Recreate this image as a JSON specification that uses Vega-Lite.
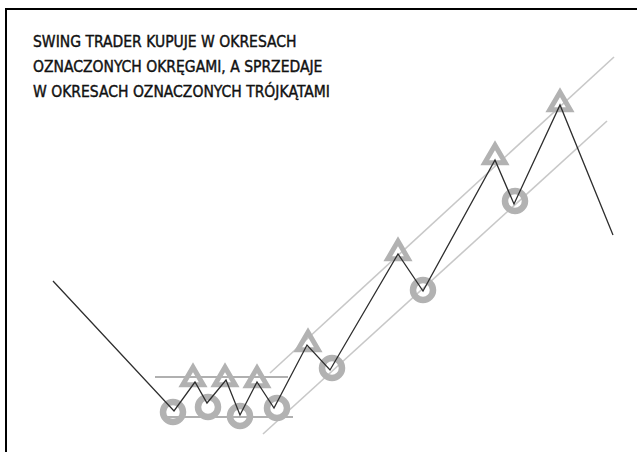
{
  "$schema": "https://vega.github.io/schema/vega-lite/v6.json",
  "autosize": {"type": "none"},
  "padding": {"left": 6, "top": 9, "right": 0, "bottom": 0},
  "width": 640,
  "height": 450,
  "background": "#ffffff",
  "config": {"view": {"stroke": "#000000", "strokeWidth": 2}},
  "datasets": {
    "path": [
      {"i": 0, "x": 53, "y": 281},
      {"i": 1, "x": 174, "y": 411},
      {"i": 2, "x": 195, "y": 382},
      {"i": 3, "x": 207, "y": 403},
      {"i": 4, "x": 226, "y": 380},
      {"i": 5, "x": 240, "y": 415},
      {"i": 6, "x": 257, "y": 382},
      {"i": 7, "x": 274, "y": 408},
      {"i": 8, "x": 307, "y": 345},
      {"i": 9, "x": 330, "y": 370},
      {"i": 10, "x": 398, "y": 254},
      {"i": 11, "x": 423, "y": 291},
      {"i": 12, "x": 495, "y": 160},
      {"i": 13, "x": 514, "y": 204},
      {"i": 14, "x": 560, "y": 105},
      {"i": 15, "x": 613, "y": 235}
    ],
    "guides": [
      {"x": 155, "y": 377, "x2": 288, "y2": 377, "k": "h"},
      {"x": 162, "y": 417, "x2": 293, "y2": 417, "k": "h"},
      {"x": 270, "y": 373, "x2": 614, "y2": 57, "k": "d"},
      {"x": 263, "y": 434, "x2": 607, "y2": 121, "k": "d"}
    ],
    "marks": [
      {"x": 193, "y": 376, "m": "sell"},
      {"x": 225, "y": 376, "m": "sell"},
      {"x": 257, "y": 377, "m": "sell"},
      {"x": 308, "y": 341, "m": "sell"},
      {"x": 398, "y": 250, "m": "sell"},
      {"x": 495, "y": 154, "m": "sell"},
      {"x": 560, "y": 101, "m": "sell"},
      {"x": 173, "y": 412, "m": "buy"},
      {"x": 208, "y": 407, "m": "buy"},
      {"x": 240, "y": 416, "m": "buy"},
      {"x": 277, "y": 408, "m": "buy"},
      {"x": 332, "y": 368, "m": "buy"},
      {"x": 423, "y": 290, "m": "buy"},
      {"x": 515, "y": 201, "m": "buy"}
    ],
    "text": [
      {"x": 33, "y": 47, "t": "SWING TRADER KUPUJE W OKRESACH"},
      {"x": 33, "y": 72, "t": "OZNACZONYCH OKRĘGAMI, A SPRZEDAJE"},
      {"x": 33, "y": 97, "t": "W OKRESACH OZNACZONYCH TRÓJKĄTAMI"}
    ]
  },
  "layer": [
    {
      "data": {"name": "guides"},
      "transform": [{"filter": "datum.k === 'd'"}],
      "mark": {"type": "rule", "color": "#c8c8c8", "strokeWidth": 1.6},
      "encoding": {
        "x": {"field": "x", "type": "quantitative", "scale": {"domain": [6, 646], "zero": false, "nice": false}, "axis": null},
        "y": {"field": "y", "type": "quantitative", "scale": {"domain": [9, 459], "zero": false, "nice": false, "reverse": true}, "axis": null},
        "x2": {"field": "x2"},
        "y2": {"field": "y2"}
      }
    },
    {
      "data": {"name": "guides"},
      "transform": [{"filter": "datum.k === 'h'"}],
      "mark": {"type": "rule", "color": "#b0b0b0", "strokeWidth": 2},
      "encoding": {
        "x": {"field": "x", "type": "quantitative", "scale": {"domain": [6, 646], "zero": false, "nice": false}, "axis": null},
        "y": {"field": "y", "type": "quantitative", "scale": {"domain": [9, 459], "zero": false, "nice": false, "reverse": true}, "axis": null},
        "x2": {"field": "x2"},
        "y2": {"field": "y2"}
      }
    },
    {
      "data": {"name": "marks"},
      "transform": [{"filter": "datum.m === 'buy'"}],
      "mark": {"type": "point", "shape": "circle", "filled": false, "stroke": "#b2b2b2", "strokeWidth": 6.5, "size": 400, "opacity": 1},
      "encoding": {
        "x": {"field": "x", "type": "quantitative", "scale": {"domain": [6, 646], "zero": false, "nice": false}, "axis": null},
        "y": {"field": "y", "type": "quantitative", "scale": {"domain": [9, 459], "zero": false, "nice": false, "reverse": true}, "axis": null}
      }
    },
    {
      "data": {"name": "marks"},
      "transform": [{"filter": "datum.m === 'sell'"}],
      "mark": {"type": "point", "shape": "triangle-up", "filled": false, "stroke": "#b2b2b2", "strokeWidth": 5, "size": 420, "opacity": 1, "strokeJoin": "miter"},
      "encoding": {
        "x": {"field": "x", "type": "quantitative", "scale": {"domain": [6, 646], "zero": false, "nice": false}, "axis": null},
        "y": {"field": "y", "type": "quantitative", "scale": {"domain": [9, 459], "zero": false, "nice": false, "reverse": true}, "axis": null}
      }
    },
    {
      "data": {"name": "path"},
      "mark": {"type": "line", "color": "#2e2e2e", "strokeWidth": 1.3},
      "encoding": {
        "x": {"field": "x", "type": "quantitative", "scale": {"domain": [6, 646], "zero": false, "nice": false}, "axis": null},
        "y": {"field": "y", "type": "quantitative", "scale": {"domain": [9, 459], "zero": false, "nice": false, "reverse": true}, "axis": null},
        "order": {"field": "i", "type": "quantitative"}
      }
    },
    {
      "data": {"name": "text"},
      "mark": {"type": "text", "align": "left", "baseline": "alphabetic", "font": "DejaVu Sans Condensed", "fontSize": 15.5, "color": "#111111", "stroke": "#111111", "strokeWidth": 0.4},
      "encoding": {
        "x": {"field": "x", "type": "quantitative", "scale": {"domain": [6, 646], "zero": false, "nice": false}, "axis": null},
        "y": {"field": "y", "type": "quantitative", "scale": {"domain": [9, 459], "zero": false, "nice": false, "reverse": true}, "axis": null},
        "text": {"field": "t"}
      }
    }
  ]
}
